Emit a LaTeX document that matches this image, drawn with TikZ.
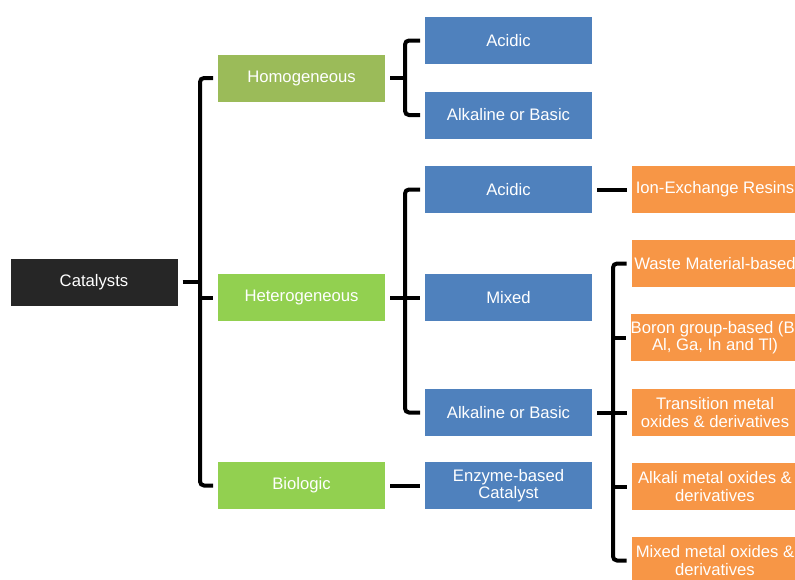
\documentclass[tikz,border=0pt]{standalone}
\usepackage{fontspec}
\setmainfont{Liberation Sans}
\usepackage{tikz}
\usetikzlibrary{positioning,calc}
\definecolor{cBlk}{HTML}{262626}
\definecolor{cOli}{HTML}{9BBB59}
\definecolor{cGrn}{HTML}{92D050}
\definecolor{cBlu}{HTML}{4F81BD}
\definecolor{cOrg}{HTML}{F79646}
\tikzset{
  dob/.style={minimum width=125.25pt,minimum height=35.25pt,inner sep=0pt,outer sep=3.75pt,
    text=white,align=center,font=\fontsize{12.5pt}{13pt}\selectfont},
  blk/.style={dob,fill=cBlk},
  oli/.style={dob,fill=cOli},
  grn/.style={dob,fill=cGrn},
  blu/.style={dob,fill=cBlu},
  org/.style={dob,fill=cOrg},
  lnk/.style={line width=3pt,black,rounded corners=3pt},
}

\begin{document}
\begin{tikzpicture}[x=0.75pt,y=-0.75pt]
  \useasboundingbox (0,0) rectangle (795,579);
  \clip (0,0) rectangle (795,579);
  \node[blk] (cat) at (94,282) {Catalysts};
  \node[oli] (homo) at (301.5,78) {Homogeneous};
  \node[grn] (hetero) at (301.5,297.5) {Heterogeneous};
  \node[grn] (bio) at (301.5,485.5) {Biologic};
  \node[blu] (hoac) at (508.5,40.5) {Acidic};
  \node[blu] (hoal) at (508.5,115) {Alkaline or Basic};
  \node[blu] (heac) at (508.5,189.5) {Acidic};
  \node[blu] (hemx) at (508.5,297.5) {Mixed};
  \node[blu] (heal) at (508.5,412.5) {Alkaline or Basic};
  \node[blu] (enz) at (508.5,485.5) {Enzyme-based\\Catalyst};
  \node[org] (ion) at (715,189.5) {Ion-Exchange Resins};
  \node[org] (waste) at (715,263.5) {Waste Material-based};
  \node[org] (boron) at (715,337.5) {Boron group-based (B,\\Al, Ga, In and Tl)};
  \node[org] (trans) at (715,412.5) {Transition metal\\oxides \& derivatives};
  \node[org] (alkox) at (715,486.5) {Alkali metal oxides \&\\derivatives};
  \node[org] (mixox) at (715,560.5) {Mixed metal oxides \&\\derivatives};
  \coordinate (s1) at (200,0); \coordinate (s2) at (405,0); \coordinate (s3) at (613,0);
  \draw[lnk] (homo.west) -| (s1 |- bio.west) -- (bio.west);
  \draw[lnk] (cat.east) -- (cat.east -| s1); \draw[lnk] (s1 |- hetero.west) -- (hetero.west);
  \draw[lnk] (hoac.west) -| (s2 |- hoal.west) -- (hoal.west);
  \draw[lnk] (homo.east) -- (homo.east -| s2);
  \draw[lnk] (heac.west) -| (s2 |- heal.west) -- (heal.west);
  \draw[lnk] (hetero.east) -- (hemx.west);
  \draw[lnk] (bio.east) -- (enz.west);
  \draw[lnk] (heac.east) -- (ion.west);
  \draw[lnk] (waste.west) -| (s3 |- mixox.west) -- (mixox.west);
  \draw[lnk] (heal.east) -- (trans.west);
  \draw[lnk] (s3 |- boron.west) -- (boron.west); \draw[lnk] (s3 |- alkox.west) -- (alkox.west);
\end{tikzpicture}
\end{document}
